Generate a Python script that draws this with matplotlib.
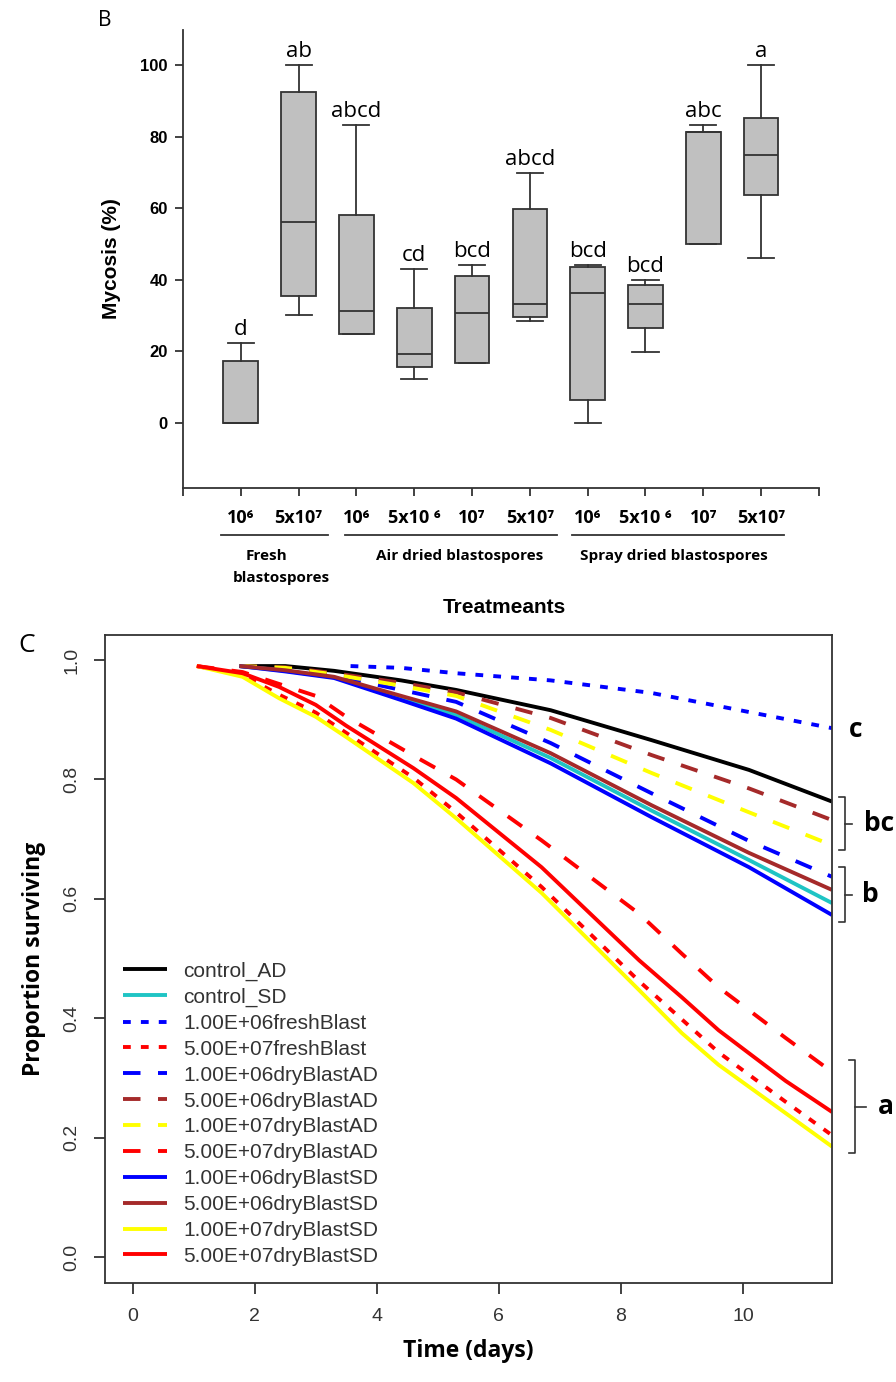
import matplotlib
matplotlib.use('Agg')
import matplotlib.pyplot as plt

plt.rcParams['font.family'] = ['Liberation Sans', 'DejaVu Sans']

# ---- panel B: mycosis box plots ----
box_pos = [1, 2, 3, 4, 5, 6, 7, 8, 9, 10]
box_whislo = [0.0, 30.2, 24.9, 12.3, 16.8, 28.6, 0.0, 19.7, 49.9, 46.0]
box_q1 = [0.0, 35.5, 24.9, 15.6, 16.8, 29.5, 6.4, 26.4, 49.9, 63.8]
box_med = [0.0, 56.0, 31.4, 19.3, 30.8, 33.2, 36.3, 33.2, 81.4, 74.8]
box_q3 = [17.3, 92.5, 58.1, 32.2, 41.1, 59.8, 43.7, 38.5, 81.4, 85.1]
box_whishi = [22.3, 100.0, 83.2, 43.0, 44.1, 69.8, 44.1, 40.0, 83.2, 100.0]
box_letters = ['d', 'ab', 'abcd', 'cd', 'bcd', 'abcd', 'bcd', 'bcd', 'abc', 'a']
dose_labels = ['10⁶', '5x10⁷', '10⁶', '5x10 ⁶', '10⁷', '5x10⁷',
               '10⁶', '5x10 ⁶', '10⁷', '5x10⁷']

# ---- panel C: survival curves ----
t_hi = [1.75, 2.5, 3.3, 4.4, 5.3, 6.85, 8.5, 10.1, 11.46]
ctrl_ad = [0.99, 0.99, 0.982, 0.966, 0.950, 0.916, 0.866, 0.816, 0.763]
ctrl_sd = [0.99, 0.982, 0.971, 0.937, 0.908, 0.836, 0.748, 0.665, 0.593]
e6_ad = [0.99, 0.985, 0.974, 0.950, 0.930, 0.861, 0.777, 0.697, 0.637]
e6b_ad = [0.99, 0.988, 0.978, 0.962, 0.946, 0.903, 0.841, 0.785, 0.732]
e7_ad = [0.99, 0.987, 0.976, 0.957, 0.940, 0.883, 0.811, 0.745, 0.690]
e6_sd = [0.99, 0.981, 0.970, 0.933, 0.902, 0.827, 0.737, 0.653, 0.573]
e6b_sd = [0.99, 0.983, 0.972, 0.940, 0.914, 0.844, 0.757, 0.677, 0.615]

t_fresh6 = [3.57, 4.4, 5.3, 6.85, 8.5, 10.1, 11.46]
fresh6 = [0.99, 0.987, 0.978, 0.966, 0.945, 0.913, 0.886]

t_lo = [1.05, 1.8, 2.4, 3.0, 3.5, 4.6, 5.3, 6.7, 8.3, 9.0, 9.6, 10.7, 11.46]
e7_sd = [0.99, 0.972, 0.936, 0.905, 0.871, 0.794, 0.735, 0.610, 0.447, 0.375, 0.322, 0.241, 0.185]
fresh57 = [0.99, 0.975, 0.942, 0.912, 0.878, 0.803, 0.745, 0.620, 0.462, 0.398, 0.343, 0.260, 0.204]
e57_sd = [0.99, 0.978, 0.955, 0.925, 0.890, 0.819, 0.769, 0.653, 0.497, 0.435, 0.380, 0.295, 0.243]
e57_ad = [0.99, 0.980, 0.960, 0.940, 0.905, 0.840, 0.800, 0.698, 0.575, 0.508, 0.452, 0.367, 0.310]

DOT = (2.0, 2.6)
DASH = (4.5, 4.5)
series = [
    ('control_AD', t_hi, ctrl_ad, 'black', None),
    ('control_SD', t_hi, ctrl_sd, '#1fc4c4', None),
    ('1.00E+06freshBlast', t_fresh6, fresh6, '#0000ff', DOT),
    ('5.00E+07freshBlast', t_lo, fresh57, '#ff0000', DOT),
    ('1.00E+06dryBlastAD', t_hi, e6_ad, '#0000ff', DASH),
    ('5.00E+06dryBlastAD', t_hi, e6b_ad, '#a52a2a', DASH),
    ('1.00E+07dryBlastAD', t_hi, e7_ad, '#ffff00', DASH),
    ('5.00E+07dryBlastAD', t_lo, e57_ad, '#ff0000', DASH),
    ('1.00E+06dryBlastSD', t_hi, e6_sd, '#0000ff', None),
    ('5.00E+06dryBlastSD', t_hi, e6b_sd, '#a52a2a', None),
    ('1.00E+07dryBlastSD', t_lo, e7_sd, '#ffff00', None),
    ('5.00E+07dryBlastSD', t_lo, e57_sd, '#ff0000', None),
]

fig = plt.figure(figsize=(8.96, 13.82), dpi=100)

# ================= panel B =================
axb = fig.add_axes([0.2042, 0.6469, 0.7098, 0.3314])
edge = '#333333'
stats = []
for i in range(len(box_pos)):
    stats.append({'med': box_med[i], 'q1': box_q1[i], 'q3': box_q3[i],
                  'whislo': box_whislo[i], 'whishi': box_whishi[i], 'fliers': []})
axb.bxp(stats, positions=box_pos, widths=0.6, capwidths=0.45, patch_artist=True,
        showfliers=False,
        boxprops=dict(facecolor='#c0c0c0', edgecolor=edge, linewidth=1.3),
        medianprops=dict(color=edge, linewidth=1.3),
        whiskerprops=dict(color=edge, linewidth=1.3),
        capprops=dict(color=edge, linewidth=1.3))

for p, top, lab in zip(box_pos, box_whishi, box_letters):
    axb.text(p, top + 2.2, lab, ha='center', va='baseline', fontsize=16,
             family=['Open Sans', 'DejaVu Sans'])

axb.set_xlim(0, 11)
axb.set_ylim(-18.2, 109.8)
axb.spines['top'].set_visible(False)
axb.spines['right'].set_visible(False)
for s in ['left', 'bottom']:
    axb.spines[s].set_color(edge)
    axb.spines[s].set_linewidth(1.3)
axb.set_yticks([0, 20, 40, 60, 80, 100])
axb.set_yticklabels(['0', '20', '40', '60', '80', '100'], fontweight='bold', fontsize=12)
axb.set_xticks(range(0, 12))
axb.set_xticklabels([''] + dose_labels + [''], fontweight='bold', fontsize=13,
                    family=['Open Sans', 'DejaVu Sans'])
axb.tick_params(axis='both', length=6, width=1.3, color=edge)
axb.tick_params(axis='x', pad=9)
axb.tick_params(axis='y', pad=5)
axb.set_ylabel('Mycosis (%)', fontweight='bold', fontsize=15, labelpad=14)

# group underlines and names
grp_lines = [(0.66, 2.51), (2.80, 6.47), (6.73, 10.40)]
for x0, x1 in grp_lines:
    axb.plot([x0, x1], [-0.1026, -0.1026], color=edge, lw=1.3, clip_on=False,
             transform=axb.get_xaxis_transform())
gfont = dict(fontsize=11, fontweight='bold', family=['Open Sans', 'DejaVu Sans'],
             ha='center', va='center', transform=axb.get_xaxis_transform())
axb.text(1.44, -0.1485, 'Fresh', **gfont)
axb.text(1.70, -0.1965, 'blastospores', **gfont)
axb.text(4.78, -0.1485, 'Air dried blastospores', **gfont)
axb.text(8.49, -0.1485, 'Spray dried blastospores', **gfont)
axb.text(5.56, -0.262, 'Treatmeants', fontsize=15, fontweight='bold', ha='center',
         va='center', transform=axb.get_xaxis_transform())

fig.text(0.117, 0.9855, 'B', fontsize=15, ha='center', va='center',
         family=['Open Sans', 'DejaVu Sans'])

# ================= panel C =================
axc = fig.add_axes([0.1172, 0.0716, 0.8114, 0.4689])
for name, t, v, col, dash in series:
    if dash is None:
        axc.plot(t, v, color=col, lw=2.8, label=name, solid_capstyle='butt')
    else:
        axc.plot(t, v, color=col, lw=2.8, label=name, dashes=dash, dash_capstyle='butt')

axc.set_xlim(-0.454, 11.46)
axc.set_ylim(-0.0436, 1.042)
for s in axc.spines.values():
    s.set_color(edge)
    s.set_linewidth(1.3)
axc.set_xticks([0, 2, 4, 6, 8, 10])
axc.set_xticklabels(['0', '2', '4', '6', '8', '10'], fontsize=14, color='#333333')
axc.set_yticks([0.0, 0.2, 0.4, 0.6, 0.8, 1.0])
axc.set_yticklabels(['0.0', '0.2', '0.4', '0.6', '0.8', '1.0'], fontsize=14,
                    color='#333333', rotation=90, va='center')
axc.tick_params(axis='both', length=8, width=1.3, color=edge, pad=10)
axc.set_xlabel('Time (days)', fontsize=16.5, fontweight='bold',
               family=['Open Sans', 'DejaVu Sans'], labelpad=10)
axc.set_ylabel('Proportion surviving', fontsize=16.5, fontweight='bold',
               family=['Open Sans', 'DejaVu Sans'], labelpad=12)

leg = axc.legend(loc='upper left', bbox_to_anchor=(0.0248, 0.496), frameon=False,
                 fontsize=15, handlelength=2.1, handletextpad=0.8,
                 labelspacing=0.33, borderpad=0, borderaxespad=0)
for txt in leg.get_texts():
    txt.set_color('#333333')

# significance brackets
brackets = [(0.770, 0.682, 11.67, 11.575, 11.79, 'bc', 12.23),
            (0.653, 0.561, 11.67, 11.575, 11.79, 'b', 12.08),
            (0.330, 0.174, 11.83, 11.74, 12.02, 'a', 12.35)]
for y0, y1, xv, xh, xm, lab, xt in brackets:
    ym = (y0 + y1) / 2
    axc.plot([xh, xv, xv, xh], [y0, y0, y1, y1], color=edge, lw=1.2, clip_on=False)
    axc.plot([xv, xm], [ym, ym], color=edge, lw=1.2, clip_on=False)
    axc.text(xt, ym, lab, fontsize=19, fontweight='bold', ha='center', va='center',
             family=['Open Sans', 'DejaVu Sans'], clip_on=False)
axc.text(11.84, 0.883, 'c', fontsize=19, fontweight='bold', ha='center', va='center',
         family=['Open Sans', 'DejaVu Sans'], clip_on=False)

fig.text(0.030, 0.533, 'C', fontsize=19, ha='center', va='center',
         family=['Open Sans', 'DejaVu Sans'])

fig.savefig('out.png', dpi=100)
